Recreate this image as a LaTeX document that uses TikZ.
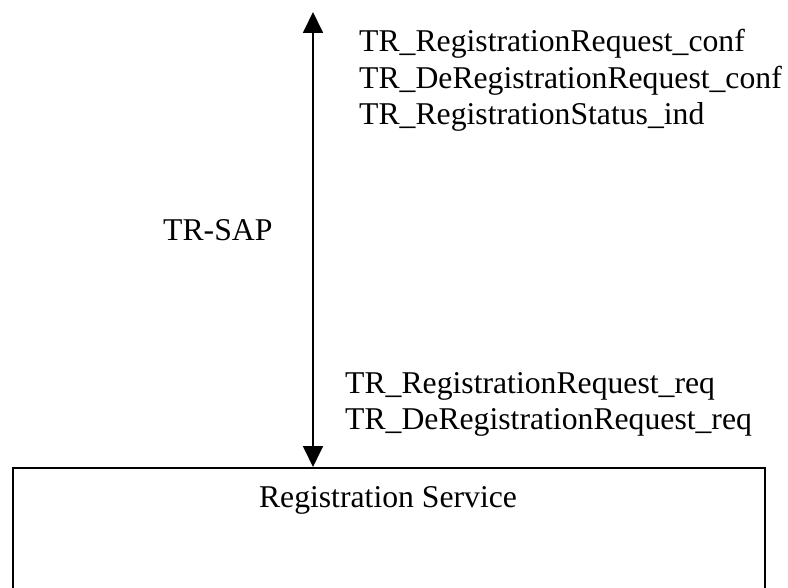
\documentclass[tikz,border=0pt]{standalone}
\usepackage{fontspec}
\setmainfont{Liberation Serif}
\usetikzlibrary{arrows.meta}
\begin{document}
\begin{tikzpicture}[x=1pt,y=-1pt,
  lbl/.style={inner sep=0pt,anchor=base west,font=\fontsize{31.7}{36.5}\selectfont},
  frame/.style={draw,line width=1.8pt,inner sep=0pt},
  sap/.style={line width=1.8pt,{Triangle[width=20pt,length=21pt]}-{Triangle[width=20pt,length=21pt]}}]
  \useasboundingbox (0,0) rectangle (788,588);
  \clip (0,0) rectangle (788,588);
  % service box, running off the lower edge
  \node[frame,minimum width=752pt,minimum height=200pt,anchor=north west] (box) at (12,467) {};
  \node[lbl,anchor=base] (svc) at (388,507) {Registration Service};
  % service access point
  \coordinate (top) at (313,12);
  \draw[sap] (top) -- (top |- box.north);
  \node[lbl] (sapname) at (163,241) {TR-SAP};
  % primitives towards the user
  \node[lbl] (c1) at (359,52) {TR\_RegistrationRequest\_conf};
  \node[lbl] (c2) at (359,88.5) {TR\_DeRegistrationRequest\_conf};
  \node[lbl] (c3) at (359,125) {TR\_RegistrationStatus\_ind};
  % primitives towards the service
  \node[lbl] (r1) at (345,393) {TR\_RegistrationRequest\_req};
  \node[lbl] (r2) at (345,429.5) {TR\_DeRegistrationRequest\_req};
\end{tikzpicture}
\end{document}
